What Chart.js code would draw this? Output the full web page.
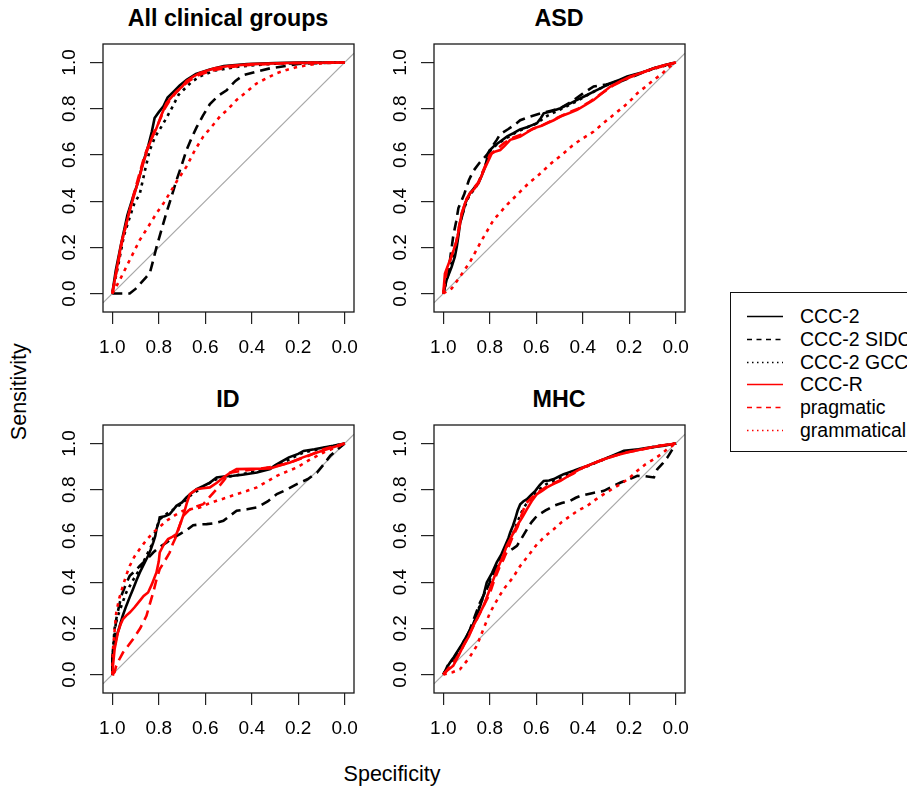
<!DOCTYPE html>
<html>
<head>
<meta charset="utf-8">
<script src="https://cdn.jsdelivr.net/npm/chart.js@4.4.1/dist/chart.umd.min.js"></script>
<style>
  html, body { margin: 0; padding: 0; background: #fff; }
  body { width: 907px; height: 789px; overflow: hidden; position: relative;
         font-family: 'Liberation Sans', Arial, sans-serif; color: #000; }
  canvas { position: absolute; }
  .ptitle { position: absolute; width: 300px; text-align: center; font-weight: bold;
            font-size: 23.3px; line-height: 23.3px; white-space: nowrap; }
  .axtitle { position: absolute; width: 200px; text-align: center; font-size: 21.5px;
             line-height: 21.5px; white-space: nowrap; }
  #legend { position: absolute; left: 730px; top: 292px; width: 200px; height: 160px;
            border: 1.3px solid #111; box-sizing: border-box; padding-top: 12px; }
  #legend .row { height: 22.8px; line-height: 22.8px; font-size: 19.5px; white-space: nowrap;
                 position: relative; }
  #legend svg { position: absolute; left: 16px; top: 10px; }
  #legend span { position: absolute; left: 69px; }
</style>
</head>
<body>
<div class="ptitle" style="left:78px;top:7px">All clinical groups</div>
<div class="ptitle" style="left:409px;top:7px">ASD</div>
<div class="ptitle" style="left:78px;top:388px">ID</div>
<div class="ptitle" style="left:409px;top:388px">MHC</div>
<div class="axtitle" style="left:292px;top:764px">Specificity</div>
<div class="axtitle" style="left:-80px;top:381px;transform:rotate(-90deg)">Sensitivity</div>
<div id="legend"></div>
<canvas id="p1" width="326" height="340" style="left:40px;top:20px"></canvas>
<canvas id="p2" width="326" height="340" style="left:371px;top:20px"></canvas>
<canvas id="p3" width="326" height="340" style="left:40px;top:401px"></canvas>
<canvas id="p4" width="326" height="340" style="left:371px;top:401px"></canvas>
<script>
// series and tick labels
const seriesNames = ['CCC-2', 'CCC-2 SIDC', 'CCC-2 GCC', 'CCC-R', 'pragmatic', 'grammatical'];
const specTicks = [0, 0.2, 0.4, 0.6, 0.8, 1.0];
const sensTicks = [0, 0.2, 0.4, 0.6, 0.8, 1.0];
const chanceLine = [[1.04, -0.04], [-0.04, 1.04]];

// points are [specificity, sensitivity]
// All clinical groups
const allCcc2 = [[1,0],[0.985,0.1],[0.961,0.22],[0.935,0.34],[0.91,0.42],[0.89,0.48],[0.868,0.565],[0.845,0.64],[0.83,0.70],[0.818,0.76],[0.80,0.785],[0.78,0.81],[0.762,0.848],[0.735,0.875],[0.71,0.90],[0.68,0.925],[0.64,0.95],[0.58,0.97],[0.52,0.985],[0.42,0.993],[0.3,0.998],[0.2,1],[0,1]];
const allSidc = [[1,0],[0.925,0],[0.9,0.02],[0.882,0.04],[0.855,0.07],[0.838,0.09],[0.825,0.14],[0.81,0.2],[0.79,0.27],[0.767,0.35],[0.745,0.42],[0.724,0.49],[0.70,0.56],[0.681,0.62],[0.66,0.67],[0.637,0.72],[0.61,0.77],[0.58,0.82],[0.545,0.855],[0.508,0.88],[0.47,0.92],[0.436,0.945],[0.38,0.96],[0.32,0.975],[0.25,0.985],[0.2,0.994],[0.1,0.998],[0,1]];
const allGcc = [[1,0],[0.975,0.12],[0.95,0.25],[0.925,0.33],[0.905,0.39],[0.882,0.43],[0.86,0.53],[0.839,0.62],[0.815,0.68],[0.79,0.72],[0.767,0.76],[0.74,0.81],[0.715,0.86],[0.695,0.88],[0.66,0.915],[0.623,0.94],[0.56,0.965],[0.45,0.983],[0.3,0.995],[0,1]];
const allCccr = [[1,0],[0.98,0.11],[0.961,0.217],[0.94,0.3],[0.925,0.36],[0.896,0.46],[0.868,0.56],[0.85,0.62],[0.835,0.66],[0.81,0.715],[0.79,0.77],[0.767,0.824],[0.745,0.85],[0.724,0.875],[0.70,0.895],[0.68,0.92],[0.65,0.94],[0.623,0.955],[0.56,0.975],[0.5,0.985],[0.4,0.993],[0.25,0.998],[0,1]];
const allPrag = [[1,0],[0.975,0.13],[0.955,0.24],[0.93,0.34],[0.905,0.44],[0.88,0.53],[0.86,0.6],[0.84,0.65],[0.82,0.7],[0.80,0.74],[0.775,0.80],[0.75,0.84],[0.725,0.87],[0.70,0.895],[0.67,0.92],[0.63,0.945],[0.57,0.965],[0.5,0.98],[0.4,0.99],[0.25,0.997],[0,1]];
const allGram = [[1,0],[0.968,0.058],[0.925,0.145],[0.882,0.231],[0.845,0.29],[0.81,0.347],[0.78,0.39],[0.753,0.434],[0.72,0.49],[0.681,0.549],[0.645,0.62],[0.609,0.679],[0.57,0.725],[0.537,0.766],[0.50,0.80],[0.465,0.838],[0.42,0.875],[0.378,0.91],[0.33,0.935],[0.292,0.954],[0.25,0.968],[0.206,0.98],[0.15,0.99],[0.091,0.997],[0,1]];

// ASD
const asdCcc2 = [[1,0],[0.986,0.058],[0.964,0.116],[0.95,0.16],[0.942,0.202],[0.935,0.25],[0.928,0.303],[0.915,0.35],[0.906,0.39],[0.885,0.434],[0.865,0.46],[0.849,0.477],[0.835,0.51],[0.82,0.549],[0.81,0.59],[0.799,0.621],[0.78,0.64],[0.755,0.658],[0.725,0.68],[0.698,0.694],[0.67,0.71],[0.64,0.72],[0.615,0.73],[0.597,0.737],[0.58,0.76],[0.568,0.78],[0.53,0.79],[0.496,0.802],[0.46,0.82],[0.424,0.838],[0.39,0.855],[0.353,0.874],[0.32,0.89],[0.281,0.91],[0.24,0.925],[0.209,0.939],[0.15,0.955],[0.094,0.975],[0.05,0.988],[0,1]];
const asdSidc = [[1,0],[0.99,0.04],[0.978,0.087],[0.968,0.17],[0.957,0.25],[0.945,0.31],[0.935,0.37],[0.91,0.43],[0.89,0.49],[0.871,0.53],[0.845,0.565],[0.813,0.6],[0.79,0.635],[0.77,0.665],[0.755,0.69],[0.72,0.712],[0.69,0.733],[0.669,0.75],[0.626,0.766],[0.58,0.78],[0.54,0.79],[0.496,0.802],[0.45,0.83],[0.4,0.865],[0.353,0.896],[0.3,0.905],[0.237,0.918],[0.17,0.945],[0.094,0.975],[0,1]];
const asdGcc = [[1,0],[0.99,0.05],[0.97,0.11],[0.955,0.17],[0.94,0.23],[0.93,0.3],[0.91,0.37],[0.89,0.42],[0.86,0.46],[0.84,0.50],[0.82,0.55],[0.80,0.615],[0.77,0.645],[0.74,0.665],[0.70,0.69],[0.65,0.715],[0.60,0.735],[0.56,0.765],[0.50,0.795],[0.43,0.83],[0.36,0.87],[0.29,0.905],[0.21,0.935],[0.12,0.965],[0,1]];
const asdCccr = [[1,0],[0.993,0.087],[0.971,0.145],[0.955,0.19],[0.942,0.231],[0.93,0.29],[0.921,0.347],[0.905,0.395],[0.885,0.434],[0.865,0.455],[0.849,0.477],[0.82,0.545],[0.791,0.607],[0.775,0.615],[0.755,0.621],[0.735,0.64],[0.712,0.665],[0.69,0.672],[0.669,0.679],[0.64,0.697],[0.612,0.715],[0.58,0.725],[0.554,0.737],[0.525,0.75],[0.496,0.766],[0.46,0.78],[0.424,0.795],[0.39,0.815],[0.353,0.838],[0.32,0.865],[0.281,0.896],[0.24,0.918],[0.194,0.939],[0.14,0.958],[0.094,0.975],[0.05,0.988],[0,1]];
const asdPrag = [[1,0],[0.985,0.1],[0.965,0.16],[0.945,0.22],[0.925,0.33],[0.9,0.41],[0.875,0.45],[0.85,0.48],[0.825,0.54],[0.80,0.60],[0.77,0.625],[0.74,0.65],[0.70,0.675],[0.66,0.69],[0.62,0.71],[0.57,0.73],[0.52,0.755],[0.47,0.78],[0.42,0.80],[0.37,0.83],[0.32,0.865],[0.27,0.9],[0.2,0.935],[0.12,0.965],[0,1]];
const asdGram = [[1,0],[0.985,0.01],[0.964,0.022],[0.93,0.07],[0.885,0.137],[0.835,0.23],[0.784,0.318],[0.725,0.385],[0.669,0.441],[0.63,0.48],[0.597,0.506],[0.54,0.56],[0.482,0.607],[0.445,0.64],[0.41,0.665],[0.353,0.701],[0.295,0.751],[0.26,0.78],[0.223,0.809],[0.19,0.84],[0.165,0.867],[0.13,0.895],[0.094,0.925],[0.06,0.95],[0.036,0.975],[0,1]];

// ID
const idCcc2 = [[1,0],[1,0.08],[0.99,0.124],[0.98,0.17],[0.968,0.21],[0.955,0.255],[0.94,0.297],[0.925,0.335],[0.911,0.369],[0.895,0.41],[0.882,0.441],[0.865,0.475],[0.846,0.514],[0.835,0.54],[0.824,0.571],[0.815,0.6],[0.81,0.629],[0.8,0.66],[0.796,0.68],[0.775,0.685],[0.753,0.694],[0.74,0.71],[0.724,0.73],[0.70,0.745],[0.681,0.766],[0.66,0.785],[0.637,0.802],[0.61,0.815],[0.58,0.831],[0.551,0.853],[0.52,0.857],[0.479,0.86],[0.44,0.865],[0.378,0.874],[0.321,0.889],[0.30,0.905],[0.278,0.918],[0.24,0.94],[0.2,0.955],[0.177,0.968],[0.13,0.975],[0.091,0.983],[0.05,0.99],[0,1]];
const idSidc = [[1,0],[0.997,0.095],[0.99,0.17],[0.983,0.24],[0.97,0.3],[0.961,0.341],[0.94,0.395],[0.925,0.427],[0.9,0.45],[0.882,0.47],[0.85,0.5],[0.824,0.528],[0.8,0.55],[0.767,0.571],[0.74,0.59],[0.709,0.608],[0.68,0.625],[0.652,0.646],[0.62,0.65],[0.594,0.651],[0.56,0.655],[0.522,0.665],[0.49,0.69],[0.465,0.709],[0.42,0.715],[0.378,0.723],[0.33,0.75],[0.292,0.781],[0.25,0.8],[0.206,0.824],[0.16,0.845],[0.119,0.874],[0.09,0.91],[0.062,0.947],[0.03,0.975],[0,1]];
const idGcc = [[1,0],[0.997,0.11],[0.99,0.2],[0.976,0.254],[0.96,0.3],[0.94,0.355],[0.91,0.41],[0.882,0.456],[0.86,0.5],[0.832,0.557],[0.815,0.62],[0.796,0.672],[0.76,0.70],[0.724,0.723],[0.695,0.745],[0.666,0.773],[0.62,0.805],[0.58,0.83],[0.551,0.846],[0.48,0.86],[0.407,0.874],[0.35,0.89],[0.292,0.903],[0.23,0.935],[0.177,0.961],[0.09,0.98],[0,1]];
const idCccr = [[1,0],[0.997,0.038],[0.99,0.11],[0.976,0.182],[0.965,0.215],[0.954,0.24],[0.94,0.255],[0.925,0.268],[0.905,0.29],[0.882,0.319],[0.865,0.34],[0.846,0.355],[0.83,0.39],[0.81,0.442],[0.80,0.49],[0.796,0.528],[0.78,0.56],[0.76,0.586],[0.74,0.597],[0.724,0.608],[0.71,0.645],[0.695,0.687],[0.68,0.74],[0.666,0.781],[0.637,0.802],[0.61,0.806],[0.58,0.81],[0.55,0.83],[0.522,0.853],[0.49,0.875],[0.465,0.889],[0.4,0.89],[0.321,0.892],[0.28,0.905],[0.235,0.918],[0.18,0.94],[0.119,0.961],[0.06,0.98],[0,1]];
const idPrag = [[1,0],[0.99,0.01],[0.983,0.038],[0.97,0.065],[0.954,0.095],[0.935,0.12],[0.911,0.153],[0.88,0.2],[0.853,0.254],[0.84,0.3],[0.824,0.355],[0.81,0.41],[0.796,0.456],[0.775,0.49],[0.753,0.528],[0.74,0.565],[0.724,0.6],[0.71,0.645],[0.695,0.687],[0.672,0.71],[0.652,0.723],[0.609,0.737],[0.58,0.77],[0.551,0.802],[0.52,0.84],[0.494,0.874],[0.44,0.882],[0.378,0.889],[0.3,0.9],[0.235,0.918],[0.16,0.945],[0.091,0.975],[0,1]];
const idGram = [[1,0],[0.997,0.11],[0.99,0.19],[0.983,0.268],[0.97,0.33],[0.954,0.384],[0.94,0.43],[0.925,0.47],[0.905,0.51],[0.882,0.543],[0.855,0.58],[0.824,0.615],[0.795,0.64],[0.767,0.665],[0.73,0.69],[0.695,0.709],[0.66,0.716],[0.623,0.723],[0.59,0.738],[0.551,0.752],[0.51,0.765],[0.465,0.781],[0.42,0.795],[0.378,0.81],[0.335,0.835],[0.292,0.86],[0.25,0.878],[0.206,0.896],[0.15,0.93],[0.091,0.961],[0.045,0.98],[0,1]];

// MHC
const mhcCcc2 = [[1,0],[0.985,0.03],[0.971,0.052],[0.955,0.075],[0.942,0.095],[0.92,0.13],[0.899,0.167],[0.875,0.21],[0.856,0.254],[0.84,0.3],[0.825,0.35],[0.813,0.398],[0.79,0.44],[0.77,0.485],[0.75,0.52],[0.734,0.557],[0.72,0.59],[0.712,0.615],[0.70,0.645],[0.691,0.672],[0.68,0.71],[0.669,0.737],[0.655,0.75],[0.64,0.759],[0.62,0.78],[0.604,0.795],[0.585,0.82],[0.568,0.838],[0.545,0.84],[0.525,0.846],[0.50,0.858],[0.482,0.867],[0.46,0.875],[0.439,0.882],[0.41,0.893],[0.381,0.903],[0.345,0.918],[0.309,0.932],[0.265,0.95],[0.223,0.968],[0.16,0.975],[0.108,0.983],[0.05,0.99],[0,1]];
const mhcSidc = [[1,0],[0.98,0.03],[0.957,0.052],[0.92,0.12],[0.885,0.196],[0.865,0.25],[0.842,0.312],[0.825,0.345],[0.813,0.369],[0.79,0.42],[0.77,0.47],[0.75,0.5],[0.727,0.528],[0.70,0.545],[0.683,0.557],[0.66,0.595],[0.64,0.629],[0.62,0.66],[0.597,0.687],[0.56,0.71],[0.525,0.73],[0.49,0.742],[0.453,0.752],[0.43,0.765],[0.41,0.773],[0.36,0.785],[0.309,0.795],[0.27,0.815],[0.237,0.831],[0.2,0.845],[0.165,0.86],[0.13,0.858],[0.094,0.853],[0.079,0.889],[0.055,0.915],[0.036,0.939],[0.014,0.975],[0,1]];
const mhcGcc = [[1,0],[0.98,0.04],[0.96,0.065],[0.93,0.11],[0.9,0.165],[0.87,0.22],[0.85,0.28],[0.83,0.33],[0.81,0.39],[0.79,0.43],[0.765,0.48],[0.74,0.53],[0.72,0.57],[0.70,0.61],[0.685,0.65],[0.665,0.70],[0.645,0.735],[0.62,0.765],[0.59,0.80],[0.555,0.825],[0.51,0.845],[0.46,0.87],[0.41,0.89],[0.36,0.91],[0.3,0.935],[0.23,0.96],[0.15,0.975],[0.07,0.99],[0,1]];
const mhcCccr = [[1,0],[0.98,0.02],[0.957,0.038],[0.935,0.08],[0.914,0.124],[0.89,0.165],[0.871,0.211],[0.85,0.25],[0.827,0.297],[0.805,0.355],[0.784,0.413],[0.77,0.45],[0.755,0.485],[0.74,0.52],[0.727,0.557],[0.705,0.6],[0.683,0.644],[0.66,0.68],[0.64,0.716],[0.62,0.75],[0.597,0.781],[0.575,0.795],[0.554,0.81],[0.525,0.825],[0.496,0.838],[0.465,0.857],[0.439,0.874],[0.41,0.89],[0.381,0.903],[0.345,0.918],[0.309,0.932],[0.26,0.948],[0.209,0.961],[0.16,0.972],[0.108,0.983],[0.05,0.992],[0,1]];
const mhcPrag = [[1,0],[0.975,0.03],[0.95,0.06],[0.925,0.1],[0.9,0.15],[0.875,0.2],[0.85,0.25],[0.825,0.3],[0.8,0.35],[0.78,0.41],[0.76,0.46],[0.74,0.5],[0.72,0.55],[0.70,0.6],[0.68,0.64],[0.66,0.70],[0.645,0.74],[0.62,0.765],[0.59,0.79],[0.56,0.81],[0.52,0.83],[0.48,0.85],[0.44,0.87],[0.40,0.895],[0.35,0.915],[0.3,0.935],[0.22,0.96],[0.14,0.975],[0.07,0.99],[0,1]];
const mhcGram = [[1,0],[0.96,0.01],[0.928,0.023],[0.89,0.07],[0.856,0.124],[0.83,0.19],[0.799,0.268],[0.77,0.32],[0.741,0.369],[0.70,0.42],[0.669,0.47],[0.63,0.52],[0.597,0.564],[0.56,0.6],[0.525,0.629],[0.49,0.66],[0.453,0.687],[0.42,0.71],[0.381,0.73],[0.345,0.757],[0.309,0.781],[0.27,0.805],[0.237,0.824],[0.2,0.85],[0.165,0.882],[0.13,0.91],[0.094,0.932],[0.06,0.955],[0.036,0.976],[0,1]];

// styles
const lineColors = ['#000000', '#000000', '#000000', '#ff0000', '#ff0000', '#ff0000'];
const lineDashes = [[], [10, 6], [3, 4.5], [], [10, 6], [3.5, 5]];
const legendDashes = ['', '5,4.5', '1.5,3.5', '', '5,4.5', '1.5,3.5'];

Chart.defaults.font.family = "'Liberation Sans', Arial, sans-serif";
Chart.defaults.color = '#000';

const boxPlugin = {
  id: 'plotBox',
  afterDatasetsDraw(chart) {
    const { ctx, chartArea: a } = chart;
    ctx.save();
    ctx.strokeStyle = '#1a1a1a';
    ctx.lineWidth = 1.3;
    ctx.strokeRect(a.left, a.top, a.right - a.left, a.bottom - a.top);
    ctx.restore();
  }
};

function toXY(pts) {
  return pts.map(p => ({ x: p[0], y: p[1] }));
}

function drawPanel(id, curves) {
  const datasets = curves.map((pts, i) => ({
    label: seriesNames[i],
    data: toXY(pts),
    borderColor: lineColors[i],
    borderDash: lineDashes[i],
    borderWidth: 2.6,
    pointRadius: 0,
    tension: 0,
    fill: false,
    order: 6 - i
  }));
  datasets.push({
    label: 'chance',
    data: toXY(chanceLine),
    borderColor: '#a8a8a8',
    borderWidth: 1.1,
    pointRadius: 0,
    order: 20
  });

  new Chart(document.getElementById(id), {
    type: 'line',
    data: { datasets: datasets },
    options: {
      responsive: false,
      devicePixelRatio: 1,
      animation: false,
      events: [],
      // top padding larger than the y labels' own padding so the plot box is not pushed down
      layout: { padding: { top: 24, right: 12, left: 0, bottom: 0 } },
      plugins: { legend: { display: false }, tooltip: { enabled: false } },
      scales: {
        x: {
          type: 'linear',
          reverse: true,
          min: -0.04,
          max: 1.04,
          afterBuildTicks: s => { s.ticks = specTicks.map(v => ({ value: v })); },
          afterFit: s => { s.height = 48; },
          border: { display: false },
          grid: { drawOnChartArea: false, drawTicks: true, tickLength: 12, color: '#222', lineWidth: 1.2 },
          ticks: {
            autoSkip: false, maxRotation: 0, minRotation: 0, padding: 12,
            font: { size: 19 }, color: '#000',
            callback: v => Number(v).toFixed(1)
          }
        },
        y: {
          type: 'linear',
          min: -0.08,
          max: 1.08,
          afterBuildTicks: s => { s.ticks = sensTicks.map(v => ({ value: v })); },
          afterFit: s => { s.width = 63; },
          border: { display: false },
          grid: { drawOnChartArea: false, drawTicks: true, tickLength: 13, color: '#222', lineWidth: 1.2 },
          ticks: {
            autoSkip: false, minRotation: 90, maxRotation: 90, crossAlign: 'center', padding: 7,
            font: { size: 19 }, color: '#000',
            callback: v => Number(v).toFixed(1)
          }
        }
      }
    },
    plugins: [boxPlugin]
  });
}

drawPanel('p1', [allCcc2, allSidc, allGcc, allCccr, allPrag, allGram]);
drawPanel('p2', [asdCcc2, asdSidc, asdGcc, asdCccr, asdPrag, asdGram]);
drawPanel('p3', [idCcc2, idSidc, idGcc, idCccr, idPrag, idGram]);
drawPanel('p4', [mhcCcc2, mhcSidc, mhcGcc, mhcCccr, mhcPrag, mhcGram]);

// legend
const legend = document.getElementById('legend');
seriesNames.forEach((name, i) => {
  const row = document.createElement('div');
  row.className = 'row';
  row.innerHTML =
    '<svg width="36" height="3"><line x1="0" y1="1.5" x2="36" y2="1.5" stroke="' + lineColors[i] +
    '" stroke-width="1.3"' + (legendDashes[i] ? ' stroke-dasharray="' + legendDashes[i] + '"' : '') +
    '/></svg><span></span>';
  row.querySelector('span').textContent = name;
  legend.appendChild(row);
});
</script>
</body>
</html>
